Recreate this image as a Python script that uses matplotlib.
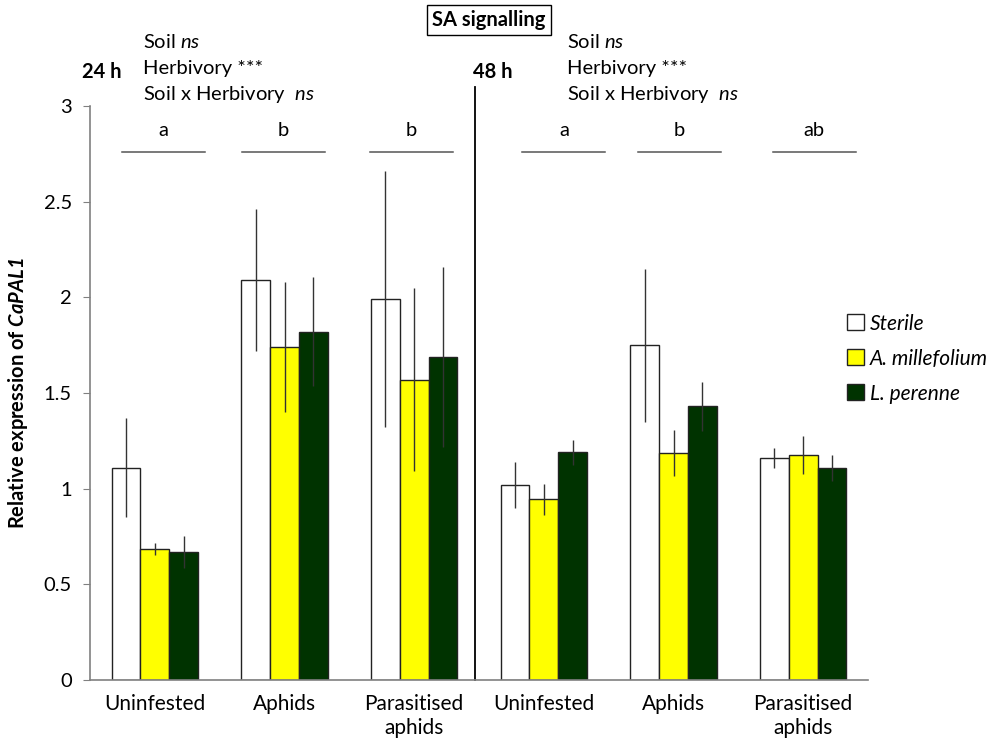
import matplotlib.pyplot as plt
import numpy as np
from matplotlib.patches import Patch

plt.rcParams['font.family'] = ['Lato', 'DejaVu Sans']
plt.rcParams['mathtext.fontset'] = 'custom'
plt.rcParams['mathtext.rm'] = 'Lato'
plt.rcParams['mathtext.it'] = 'Lato:italic'
plt.rcParams['mathtext.bfit'] = 'Lato:bold:italic'

groups = ["Uninfested", "Aphids", "Parasitised\naphids",
          "Uninfested", "Aphids", "Parasitised\naphids"]
soils = ["Sterile", "A. millefolium", "L. perenne"]

sterile = [1.11, 2.09, 1.99, 1.02, 1.75, 1.16]
sterile_se = [0.26, 0.37, 0.67, 0.12, 0.40, 0.05]
millefolium = [0.685, 1.74, 1.57, 0.945, 1.185, 1.177]
millefolium_se = [0.03, 0.34, 0.48, 0.08, 0.12, 0.10]
perenne = [0.67, 1.82, 1.69, 1.19, 1.43, 1.108]
perenne_se = [0.085, 0.285, 0.47, 0.065, 0.13, 0.07]

letters = ["a", "b", "b", "a", "b", "ab"]
stats_lines = ["Soil $\\it{ns}$", "Herbivory ***", "Soil x Herbivory  $\\it{ns}$"]

colors = ["white", "#ffff00", "#003300"]
# horizontal shift of the letter/line marks relative to each group centre
mark_shift = [0.065, -0.01, -0.02, 0.155, 0.045, 0.085]

fig = plt.figure(figsize=(10, 7.5), dpi=100)
ax = fig.add_axes([0.09, 0.0933, 0.778, 0.7654])

x = np.arange(len(groups))
w = 0.222
series = [(sterile, sterile_se), (millefolium, millefolium_se), (perenne, perenne_se)]
for k, (vals, se) in enumerate(series):
    ax.bar(x + (k - 1) * w, vals, w, color=colors[k], edgecolor="#222222", linewidth=1)
    ax.errorbar(x + (k - 1) * w, vals, yerr=se, fmt="none", ecolor="#333333",
                elinewidth=1, capsize=0)

ax.set_xlim(-0.5, 5.5)
ax.set_ylim(0, 3)
ax.set_yticks(np.arange(0, 3.01, 0.5))
ax.set_yticklabels(["0", "0.5", "1", "1.5", "2", "2.5", "3"], fontsize=14.5)
ax.set_xticks(x)
ax.set_xticklabels(groups, fontsize=15, linespacing=1.25)
ax.tick_params(axis="x", length=0, pad=10)
ax.tick_params(axis="y", length=5, color="#808080", pad=8)
for s in ["top", "right"]:
    ax.spines[s].set_visible(False)
for s in ["left", "bottom"]:
    ax.spines[s].set_color("#808080")
    ax.spines[s].set_linewidth(1.2)

ax.set_ylabel("Relative expression of $\\mathbfit{CaPAL1}$", fontsize=14.5,
              fontweight="bold", labelpad=10)

# divider between 24 h and 48 h
ax.plot([2.47, 2.47], [0, 3.1], color="black", linewidth=1.3, clip_on=False)

# letters with lines
for i, let in enumerate(letters):
    c = x[i] + mark_shift[i]
    ax.plot([c - 0.32, c + 0.32], [2.76, 2.76], color="#555555", linewidth=1.1)
    ax.text(c, 2.83, let, ha="center", va="bottom", fontsize=14.5)

# headers
fig.text(0.082, 0.904, "24 h", fontsize=14.5, fontweight="bold", va="center")
fig.text(0.473, 0.904, "48 h", fontsize=14.5, fontweight="bold", va="center")
for xs in [0.143, 0.567]:
    for j, line in enumerate(stats_lines):
        fig.text(xs, 0.944 - j * 0.0347, line, fontsize=14.5, va="center")

fig.text(0.489, 0.973, "SA signalling", fontsize=14.5, fontweight="bold", ha="center",
         va="center", bbox=dict(boxstyle="square,pad=0.25", facecolor="white",
                                edgecolor="black", linewidth=1))

handles = [Patch(facecolor=colors[k], edgecolor="#222222", label=soils[k]) for k in range(3)]
leg = fig.legend(handles=handles, loc="upper left", bbox_to_anchor=(0.847, 0.582),
                 frameon=False, handlelength=0.8, handleheight=0.8,
                 handletextpad=0.3, labelspacing=0.72, borderaxespad=0, borderpad=0,
                 prop={"style": "italic", "size": 15})

fig.savefig("out.png", dpi=100)
